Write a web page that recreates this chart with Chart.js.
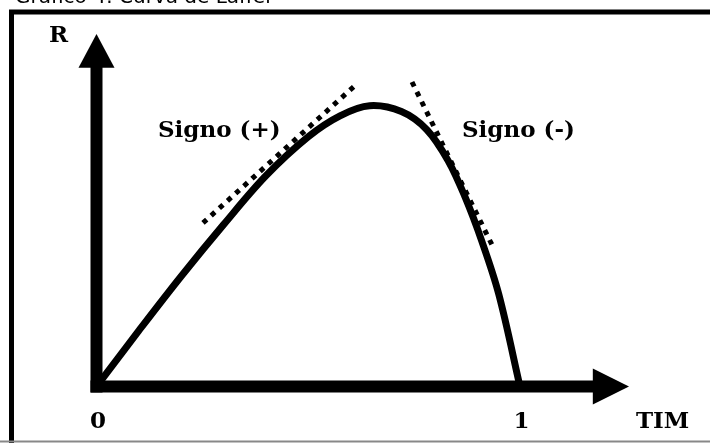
<!DOCTYPE html>
<html>
<head>
<meta charset="utf-8">
<script src="https://cdn.jsdelivr.net/npm/chart.js@4.4.0/dist/chart.umd.min.js"></script>
<style>
html,body{margin:0;padding:0;background:#fff;}
#wrap{width:710px;height:443px;position:relative;}
</style>
</head>
<body>
<div id="wrap"><canvas id="c" width="710" height="443"></canvas></div>
<script>
// ---- data (TIM on x, R on y) ----
const tim = [0, 0.10, 0.20, 0.30, 0.40, 0.50, 0.575, 0.645, 0.72, 0.78, 0.83, 0.87, 0.91, 0.95, 1.0];
const recaudacion = [0, 20, 39.5, 58, 75.5, 89.5, 97, 100.6, 98.5, 92, 81, 68, 52, 33, 0];
// tangent (dotted) lines
const tangentPosX = [0.2515, 0.6175];
const tangentPosY = [58.6, 108.8];
const tangentNegX = [0.745, 0.934];
const tangentNegY = [109.1, 50.7];
// tick labels
const xTickValues = [0, 1];
const xTickLabels = ['0', '1'];
const axisTitles = { x: 'TIM', y: 'R' };
const annotations = ['Signo (+)', 'Signo (-)'];
const chartTitle = 'Gráfico 4: Curva de Laffer';
// axis extents (data units)
const X_MAX = 1.2574, Y_MAX = 126.3;
const X_ARROW_BASE = 1.172, Y_ARROW_BASE = 114.2;

const toPts = (xs, ys) => xs.map((v, i) => ({ x: v, y: ys[i] }));
const LABEL_FONT = 'bold 23px "DejaVu Serif"';

const decor = {
  id: 'decor',
  beforeDraw(chart) {
    const ctx = chart.ctx;
    ctx.save();
    ctx.fillStyle = '#fff';
    ctx.fillRect(0, 0, chart.width, chart.height);
    // title (cut off at top)
    ctx.fillStyle = '#000';
    ctx.font = '20px "DejaVu Sans"';
    ctx.textBaseline = 'alphabetic';
    ctx.textAlign = 'left';
    ctx.fillText(chartTitle, 15, 3);
    // box
    ctx.strokeStyle = '#000';
    ctx.lineWidth = 5;
    ctx.beginPath();
    ctx.moveTo(11.5, 443);
    ctx.lineTo(11.5, 12);
    ctx.lineTo(710, 12);
    ctx.stroke();
    ctx.strokeStyle = '#888';
    ctx.lineWidth = 2;
    ctx.beginPath();
    ctx.moveTo(0, 441.5);
    ctx.lineTo(710, 441.5);
    ctx.stroke();
    ctx.restore();
  },
  beforeDatasetsDraw(chart) {
    const ctx = chart.ctx;
    const xs = chart.scales.x, ys = chart.scales.y;
    const x0 = xs.getPixelForValue(0), y0 = ys.getPixelForValue(0);
    const yTop = ys.getPixelForValue(Y_MAX), yBase = ys.getPixelForValue(Y_ARROW_BASE);
    const xEnd = xs.getPixelForValue(X_MAX), xBase = xs.getPixelForValue(X_ARROW_BASE);
    ctx.save();
    ctx.fillStyle = '#000';
    ctx.fillRect(x0 - 6, yBase - 1, 12, (y0 + 6) - (yBase - 1));
    ctx.fillRect(x0 - 6, y0 - 6, (xBase + 1) - (x0 - 6), 12);
    ctx.beginPath();
    ctx.moveTo(x0, yTop);
    ctx.lineTo(x0 + 18, yBase);
    ctx.lineTo(x0 - 18, yBase);
    ctx.closePath();
    ctx.fill();
    ctx.beginPath();
    ctx.moveTo(xEnd, y0);
    ctx.lineTo(xBase, y0 - 18);
    ctx.lineTo(xBase, y0 + 18);
    ctx.closePath();
    ctx.fill();
    ctx.restore();
  },
  afterDraw(chart) {
    const ctx = chart.ctx;
    const xs = chart.scales.x, ys = chart.scales.y;
    const x0 = xs.getPixelForValue(0), y0 = ys.getPixelForValue(0);
    ctx.save();
    ctx.fillStyle = '#000';
    ctx.font = LABEL_FONT;
    ctx.textBaseline = 'alphabetic';
    ctx.textAlign = 'center';
    xTickValues.forEach((v, i) => {
      ctx.fillText(xTickLabels[i], xs.getPixelForValue(v) + 1.5, y0 + 41);
    });
    ctx.fillText(axisTitles.y, x0 - 38, 42);
    ctx.textAlign = 'left';
    ctx.fillText(axisTitles.x, xs.getPixelForValue(X_MAX) + 7, y0 + 41);
    ctx.fillText(annotations[0], 158, 137);
    ctx.fillText(annotations[1], 462, 137);
    ctx.restore();
  }
};

new Chart(document.getElementById('c'), {
  type: 'line',
  data: {
    datasets: [
      {
        data: toPts(tim, recaudacion),
        borderColor: '#000',
        borderWidth: 7,
        tension: 0.35,
        pointRadius: 0,
        fill: false
      },
      {
        data: toPts(tangentPosX, tangentPosY),
        borderColor: '#000',
        borderWidth: 5,
        borderDash: [5, 6],
        borderCapStyle: 'butt',
        pointRadius: 0,
        fill: false
      },
      {
        data: toPts(tangentNegX, tangentNegY),
        borderColor: '#000',
        borderWidth: 5,
        borderDash: [5, 6],
        borderCapStyle: 'butt',
        pointRadius: 0,
        fill: false
      }
    ]
  },
  options: {
    responsive: false,
    animation: false,
    layout: { padding: { left: 96.5, right: 81, top: 34, bottom: 56.5 } },
    plugins: { legend: { display: false }, tooltip: { enabled: false }, title: { display: false } },
    scales: {
      x: { type: 'linear', display: false, min: 0, max: X_MAX },
      y: { type: 'linear', display: false, min: 0, max: Y_MAX }
    }
  },
  plugins: [decor]
});
</script>
</body>
</html>
